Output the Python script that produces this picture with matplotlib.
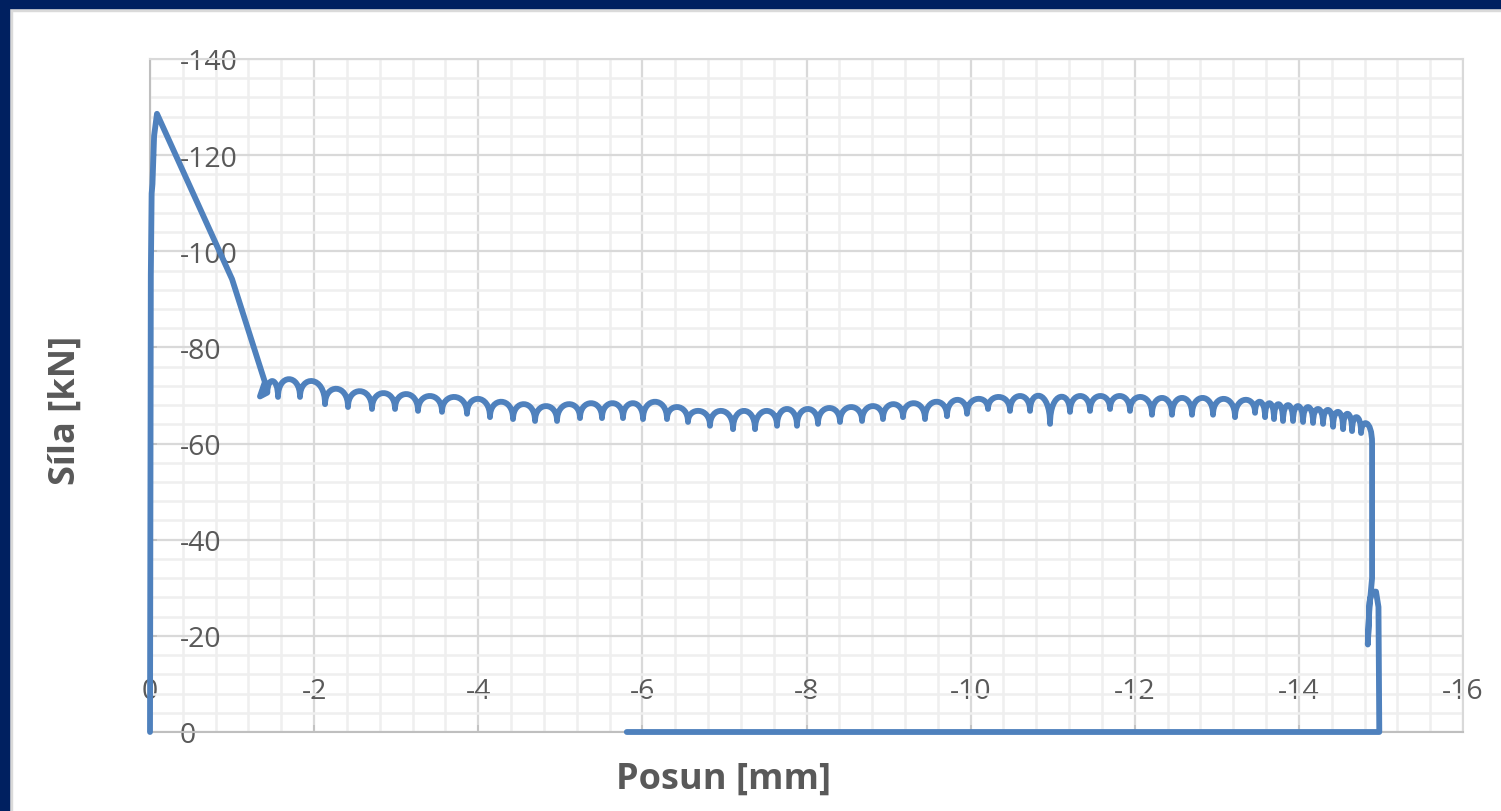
import matplotlib
matplotlib.use('Agg')
import matplotlib.pyplot as plt
from matplotlib.path import Path
from matplotlib.patches import PathPatch, Rectangle
from matplotlib.ticker import MultipleLocator

plt.rcParams['font.family'] = ['Open Sans', 'DejaVu Sans']
plt.rcParams['axes.unicode_minus'] = False

# ---- data (displacement [mm], force [kN]) ----
# loading branch up to the peak and down to the start of the plateau
load_x = [0.0, -0.01, -0.02, -0.03, -0.05, -0.085, -1.00, -1.40, -1.34]
load_f = [0.0, -95.0, -112.0, -114.0, -124.0, -128.6, -94.2, -72.8, -69.8]

# plateau: cusp points (local minima of |F|) and arch tops between them
cusp_x = [-1.430, -1.560, -1.828, -2.133, -2.413, -2.705, -2.986, -3.266, -3.558, -3.863,
          -4.143, -4.424, -4.692, -4.960, -5.240, -5.508, -5.764, -6.008, -6.300, -6.556,
          -6.824, -7.105, -7.373, -7.641, -7.884, -8.140, -8.408, -8.677, -8.932, -9.176,
          -9.444, -9.712, -9.956, -10.212, -10.480, -10.724, -10.968, -11.211, -11.455, -11.699,
          -11.942, -12.210, -12.454, -12.698, -12.954, -13.222, -13.466, -13.588, -13.697, -13.807,
          -13.929, -14.051, -14.173, -14.295, -14.417, -14.539, -14.648, -14.758]
cusp_f = [-70.6, -69.7, -69.7, -68.2, -67.6, -67.2, -67.2, -66.8, -66.6, -66.2,
          -65.5, -65.1, -64.7, -64.7, -65.3, -65.3, -65.3, -65.1, -65.1, -64.5,
          -63.7, -63.0, -63.0, -63.7, -63.7, -64.1, -64.5, -64.7, -65.1, -65.5,
          -65.1, -65.7, -66.2, -67.2, -66.8, -66.8, -64.1, -66.6, -66.8, -67.2,
          -66.8, -66.0, -66.0, -66.0, -66.0, -65.5, -66.4, -65.5, -65.1, -64.7,
          -64.7, -64.5, -64.3, -64.1, -63.5, -63.0, -62.6, -62.2]
peak_f = [-73.0, -73.4, -73.0, -71.4, -70.9, -70.5, -70.3, -69.9, -69.7, -69.3,
          -68.7, -68.2, -67.8, -68.2, -68.4, -68.4, -68.4, -68.7, -67.6, -66.8,
          -66.8, -66.8, -66.8, -67.2, -67.2, -67.4, -67.6, -67.8, -68.2, -68.4,
          -68.7, -69.1, -69.3, -69.7, -69.9, -69.9, -69.7, -69.9, -69.9, -69.9,
          -69.7, -69.5, -69.5, -69.5, -69.3, -69.1, -68.7, -68.4, -68.2, -68.0,
          -67.8, -67.6, -67.2, -67.0, -66.6, -66.2, -65.5, -64.2]

# failure / unloading branch
unload_x = [-14.892, -14.892, -14.86, -14.84, -14.86, -14.89, -14.94, -14.97, -14.98, -5.81]
unload_f = [-60.0, -32.0, -26.0, -18.2, -27.0, -29.2, -29.2, -26.0, 0.0, 0.0]

x_ticks = [0, -2, -4, -6, -8, -10, -12, -14, -16]
x_labels = ['0', '-2', '-4', '-6', '-8', '-10', '-12', '-14', '-16']
y_ticks = [0, -20, -40, -60, -80, -100, -120, -140]
y_labels = ['0', '-20', '-40', '-60', '-80', '-100', '-120', '-140']

LINE = '#4f81bd'
TXT = '#595959'

# ---- build the curve path ----
verts = list(zip(load_x, load_f))
codes = [Path.MOVETO] + [Path.LINETO] * (len(load_x) - 1)
verts.append((cusp_x[0], cusp_f[0]))
codes.append(Path.LINETO)
for i, p in enumerate(peak_f):
    x0, c0 = cusp_x[i], cusp_f[i]
    if i + 1 < len(cusp_x):
        x1, c1 = cusp_x[i + 1], cusp_f[i + 1]
    else:
        x1, c1 = unload_x[0], unload_f[0]
    q = (p - (c0 + c1) / 8.0) / 0.75
    verts += [(x0, q), (x1, q), (x1, c1)]
    codes += [Path.CURVE4] * 3
for x, f in zip(unload_x[1:], unload_f[1:]):
    verts.append((x, f))
    codes.append(Path.LINETO)

fig = plt.figure(figsize=(15.01, 8.12), dpi=100)
fig.patch.set_facecolor('white')
ax = fig.add_axes([150 / 1501, (812 - 733) / 812, (1463 - 150) / 1501, (733 - 60) / 812])
ax.set_xlim(0, -16)
ax.set_ylim(0, -140)

ax.add_patch(PathPatch(Path(verts, codes), fill=False, edgecolor=LINE, lw=4.2,
                       joinstyle='round', capstyle='round', zorder=4, clip_on=False))

ax.set_xticks(x_ticks)
ax.set_xticklabels(x_labels)
ax.set_yticks(y_ticks)
ax.set_yticklabels(y_labels)
ax.xaxis.set_minor_locator(MultipleLocator(0.4))
ax.yaxis.set_minor_locator(MultipleLocator(4))
ax.set_axisbelow(True)
ax.grid(which='minor', color='#efefef', lw=1.8)
ax.grid(which='major', color='#d9d9d9', lw=1.6)
ax.tick_params(which='minor', length=0)
ax.tick_params(axis='x', which='major', direction='in', length=5, width=1.2, color='#bfbfbf',
               pad=-29.5, labelsize=20.5, labelcolor=TXT)
ax.tick_params(axis='y', which='major', direction='in', length=5, width=1.2, color='#bfbfbf',
               pad=-21.6, labelsize=20.5, labelcolor=TXT)
for lab in ax.get_xticklabels():
    lab.set_verticalalignment('center')
for lab in ax.get_yticklabels():
    lab.set_horizontalalignment('left')

for side in ['left', 'bottom']:
    ax.spines[side].set_color('#bfbfbf')
    ax.spines[side].set_linewidth(1.5)
for side in ['top', 'right']:
    ax.spines[side].set_color('#d9d9d9')
    ax.spines[side].set_linewidth(1.5)

ax.set_xlabel('Posun [mm]', fontsize=26, fontweight='bold', color=TXT)
ax.xaxis.set_label_coords((724 - 150) / 1313, (733 - 780) / 673)
ax.xaxis.label.set_verticalalignment('center')
ax.set_ylabel('Síla [kN]', fontsize=26, fontweight='bold', color=TXT)
ax.yaxis.set_label_coords((66 - 150) / 1313, (733 - 410) / 673)
ax.yaxis.label.set_verticalalignment('center')

# navy frame (top and left) with light shadow line
fig.add_artist(Rectangle((0, 1 - 9 / 812), 1, 9 / 812, transform=fig.transFigure,
                         color='#002060', zorder=10))
fig.add_artist(Rectangle((0, 0), 9 / 1501, 1, transform=fig.transFigure,
                         color='#002060', zorder=10))
fig.add_artist(Rectangle((9 / 1501, 1 - 12 / 812), 1, 3 / 812, transform=fig.transFigure,
                         color='#dadada', zorder=9))
fig.add_artist(Rectangle((9 / 1501, 0), 3 / 1501, 1 - 9 / 812, transform=fig.transFigure,
                         color='#dadada', zorder=9))

fig.savefig('out.png', dpi=100, facecolor='white')
